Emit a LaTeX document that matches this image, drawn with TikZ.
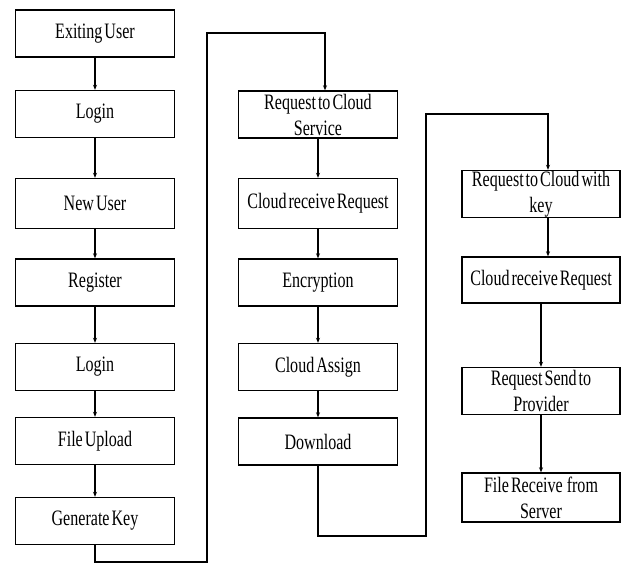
\documentclass[tikz,border=0pt]{standalone}
\usepackage{fontspec}
\setmainfont[FakeStretch=0.73,WordSpace=0.5]{Liberation Serif}
\usetikzlibrary{arrows.meta}
\begin{document}
\begin{tikzpicture}[x=1pt,y=-1pt,
  box/.style={draw, line width=1.4pt, minimum width=159pt, minimum height=47pt,
    inner sep=0pt, align=center, font=\fontsize{22}{26}\selectfont},
  arr/.style={line width=1.1pt, -{Stealth[length=5pt,width=4pt]}},
  conn/.style={line width=1.2pt, -{Stealth[length=5pt,width=4pt]}}]
\useasboundingbox (0,0) rectangle (623,565);
% column 1
\node[box] (e1) at (95,33.5) {Exiting User};
\node[box] (l1) at (95,114) {Login};
\node[box, minimum height=50pt] (nu) at (95,203.5) {New User};
\node[box] (rg) at (95,282.5) {Register};
\node[box] (l2) at (95,367) {Login};
\node[box] (fu) at (95,441) {File Upload};
\node[box] (gk) at (95,521) {Generate Key};
% column 2
\node[box] (rc) at (318,114.5) {Request to Cloud\\Service};
\node[box, minimum height=50pt] (cr) at (318,203.5) {Cloud receive Request};
\node[box] (en) at (318,282.5) {Encryption};
\node[box] (ca) at (318,367) {Cloud Assign};
\node[box] (dl) at (318,441.5) {Download};
% column 3
\node[box, minimum width=158pt] (rk) at (541,194) {Request to Cloud with\\key};
\node[box, minimum width=158pt, minimum height=46pt] (cr2) at (541,280) {Cloud receive Request};
\node[box, minimum width=158pt] (rs) at (541,391) {Request Send to\\Provider};
\node[box, minimum width=158pt, minimum height=49pt] (fr) at (541,497.5) {File Receive~~from\\Server};
% arrows column 1
\draw[arr] (e1) -- (l1);
\draw[arr] (l1) -- (nu);
\draw[arr] (nu) -- (rg);
\draw[arr] (rg) -- (l2);
\draw[arr] (l2) -- (fu);
\draw[arr] (fu) -- (gk);
% arrows column 2
\draw[arr] (rc) -- (cr);
\draw[arr] (cr) -- (en);
\draw[arr] (en) -- (ca);
\draw[arr] (ca) -- (dl);
% arrows column 3
\draw[conn] ([xshift=7pt]rk.south) -- ([xshift=7pt]cr2.north);
\draw[conn] (cr2) -- (rs);
\draw[conn] (rs) -- (fr);
% connectors between columns
\coordinate (c1) at (207,562);
\coordinate (c2) at (207,33);
\coordinate (c3) at (426,536);
\coordinate (c4) at (426,114);
\draw[conn] (gk.south) |- (c1) -- (c2) -| ([xshift=7pt]rc.north);
\draw[conn] (dl.south) |- (c3) -- (c4) -| ([xshift=7pt]rk.north);
\end{tikzpicture}
\end{document}
